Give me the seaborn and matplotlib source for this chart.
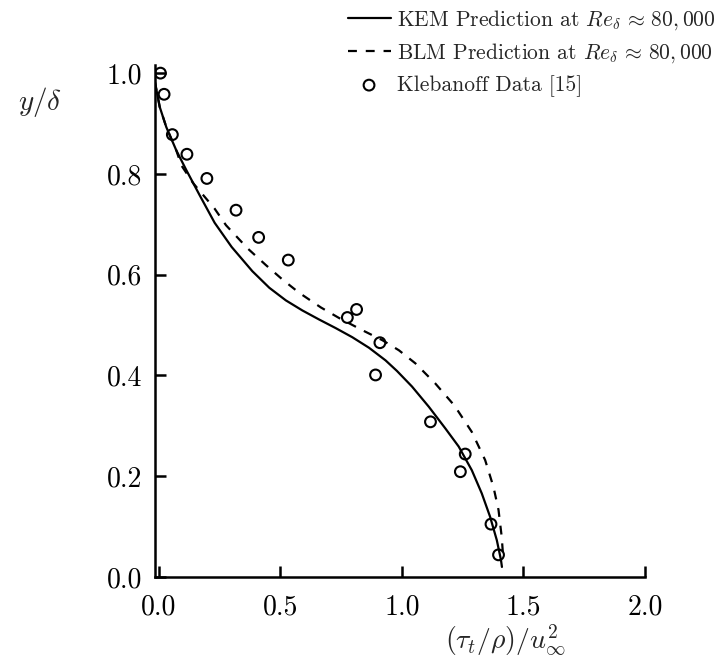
import numpy as np
import matplotlib
matplotlib.use("Agg")
import matplotlib.pyplot as plt
import seaborn as sns

# Klebanoff data [15]
kleb_x = [0.007, 0.022, 0.056, 0.116, 0.198, 0.318, 0.411, 0.533, 0.776, 0.814,
          0.910, 0.892, 1.118, 1.261, 1.241, 1.367, 1.398]
kleb_y = [1.000, 0.958, 0.878, 0.839, 0.791, 0.728, 0.674, 0.629, 0.515, 0.531,
          0.465, 0.401, 0.308, 0.244, 0.209, 0.105, 0.044]

# KEM prediction (solid)
kem_x = [-0.016, 0.004, 0.031, 0.072, 0.113, 0.168, 0.230, 0.300, 0.385, 0.455,
         0.523, 0.591, 0.660, 0.728, 0.796, 0.865, 0.933, 0.980, 1.042, 1.111,
         1.179, 1.234, 1.288, 1.329, 1.363, 1.391, 1.408, 1.412]
kem_y = [0.983, 0.933, 0.893, 0.847, 0.808, 0.758, 0.703, 0.655, 0.607, 0.574,
         0.549, 0.529, 0.511, 0.494, 0.476, 0.455, 0.430, 0.409, 0.378, 0.338,
         0.295, 0.259, 0.212, 0.166, 0.120, 0.073, 0.034, 0.020]

# BLM prediction (dashed)
blm_x = [-0.016, 0.004, 0.031, 0.072, 0.093, 0.141, 0.230, 0.277, 0.366, 0.441,
         0.510, 0.578, 0.667, 0.742, 0.837, 0.920, 0.988, 1.056, 1.138, 1.217,
         1.288, 1.343, 1.377, 1.398, 1.411, 1.418]
blm_y = [0.983, 0.933, 0.893, 0.847, 0.817, 0.782, 0.731, 0.698, 0.652, 0.619,
         0.590, 0.564, 0.535, 0.514, 0.490, 0.470, 0.450, 0.424, 0.384, 0.340,
         0.288, 0.232, 0.179, 0.133, 0.080, 0.034]

x_ticks = [0.0, 0.5, 1.0, 1.5, 2.0]
y_ticks = [0.0, 0.2, 0.4, 0.6, 0.8, 1.0]

sns.set_style("ticks")
plt.rcParams['font.family'] = ['cmr10', 'DejaVu Serif']
plt.rcParams['mathtext.fontset'] = 'cm'
plt.rcParams['axes.formatter.use_mathtext'] = True

fig = plt.figure(figsize=(7.27, 6.64), dpi=100)
ax = fig.add_axes([0.213, 0.131, 0.674, 0.771])

sns.lineplot(x=kem_x, y=kem_y, sort=False, estimator=None, color='black', lw=1.6,
             ax=ax, label=r'KEM Prediction at $Re_\delta\,\approx\,80,000$')
sns.lineplot(x=blm_x, y=blm_y, sort=False, estimator=None, color='black', lw=1.6,
             linestyle=(0, (4, 4)), ax=ax,
             label=r'BLM Prediction at $Re_\delta\,\approx\,80,000$')
sns.scatterplot(x=kleb_x, y=kleb_y, marker='o', s=60, color='black', linewidth=1.5,
                ax=ax, label='Klebanoff Data [15]')
ax.collections[-1].set_facecolor('none')
ax.collections[-1].set_edgecolor('black')

ax.set_xlim(-0.016, 2.0)
ax.set_ylim(0, 1.016)
ax.set_xticks(x_ticks)
ax.set_yticks(y_ticks)
ax.set_xticklabels([f'{v:.1f}' for v in x_ticks])
ax.set_yticklabels([f'{v:.1f}' for v in y_ticks])
ax.tick_params(direction='in', length=8, width=1.8, labelsize=20, colors='black')
ax.tick_params(axis='x', pad=12)
ax.tick_params(axis='y', pad=9)
sns.despine(ax=ax)
for s in ['left', 'bottom']:
    ax.spines[s].set_linewidth(1.8)
    ax.spines[s].set_color('black')

fig.text(40 / 727, 1 - 102 / 664, r'$y/\delta$', fontsize=21, ha='center', va='center')
fig.text(505 / 727, 1 - 640 / 664, r'$(\tau_t/\rho)/u_\infty^2$', fontsize=20,
         ha='center', va='center')

ax.legend(loc='upper left', bbox_to_anchor=(0.478, 0.988), bbox_transform=fig.transFigure,
          frameon=False, fontsize=15.5, handlelength=2.0, handletextpad=0.3,
          labelspacing=0.45, borderpad=0, borderaxespad=0)

fig.savefig('out.png', dpi=100)
